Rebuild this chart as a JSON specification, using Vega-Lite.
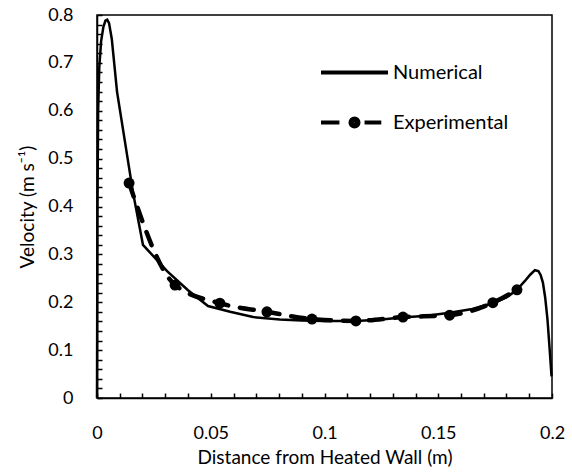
{
  "$schema": "https://vega.github.io/schema/vega-lite/v6.json",
  "width": 455,
  "height": 383,
  "autosize": "none",
  "padding": {"left": 97, "top": 15, "right": 20, "bottom": 75},
  "background": "white",
  "config": {
    "view": {"stroke": "black", "strokeWidth": 1.5},
    "font": "Lato",
    "axis": {
      "grid": false,
      "domainColor": "black",
      "domainWidth": 1.5,
      "tickColor": "black",
      "tickWidth": 1.5,
      "labelFont": "Lato",
      "labelFontSize": 18,
      "labelColor": "black",
      "titleFont": "Lato",
      "titleFontSize": 19,
      "titleFontWeight": "normal",
      "titleColor": "black",
      "labelFlush": false,
      "labelOverlap": false
    }
  },
  "data": {
    "values": [
      {"series": "Numerical", "x": 0, "v": 0.0},
      {"series": "Numerical", "x": 0.0002, "v": 0.4},
      {"series": "Numerical", "x": 0.0005, "v": 0.6},
      {"series": "Numerical", "x": 0.001, "v": 0.69},
      {"series": "Numerical", "x": 0.0018, "v": 0.745},
      {"series": "Numerical", "x": 0.0028, "v": 0.775},
      {"series": "Numerical", "x": 0.0037, "v": 0.788},
      {"series": "Numerical", "x": 0.0045, "v": 0.79},
      {"series": "Numerical", "x": 0.0053, "v": 0.783},
      {"series": "Numerical", "x": 0.0065, "v": 0.75},
      {"series": "Numerical", "x": 0.0088, "v": 0.64},
      {"series": "Numerical", "x": 0.0158, "v": 0.43},
      {"series": "Numerical", "x": 0.0202, "v": 0.32},
      {"series": "Numerical", "x": 0.0308, "v": 0.265},
      {"series": "Numerical", "x": 0.04, "v": 0.225},
      {"series": "Numerical", "x": 0.0488, "v": 0.192},
      {"series": "Numerical", "x": 0.0585, "v": 0.18},
      {"series": "Numerical", "x": 0.0686, "v": 0.169},
      {"series": "Numerical", "x": 0.0804, "v": 0.164},
      {"series": "Numerical", "x": 0.09, "v": 0.162},
      {"series": "Numerical", "x": 0.1, "v": 0.161},
      {"series": "Numerical", "x": 0.114, "v": 0.161},
      {"series": "Numerical", "x": 0.125, "v": 0.164},
      {"series": "Numerical", "x": 0.134, "v": 0.168},
      {"series": "Numerical", "x": 0.145, "v": 0.172},
      {"series": "Numerical", "x": 0.155, "v": 0.178},
      {"series": "Numerical", "x": 0.165, "v": 0.186},
      {"series": "Numerical", "x": 0.174, "v": 0.198},
      {"series": "Numerical", "x": 0.18, "v": 0.21},
      {"series": "Numerical", "x": 0.1846, "v": 0.226},
      {"series": "Numerical", "x": 0.188, "v": 0.244},
      {"series": "Numerical", "x": 0.1905, "v": 0.258},
      {"series": "Numerical", "x": 0.1925, "v": 0.267},
      {"series": "Numerical", "x": 0.194, "v": 0.265},
      {"series": "Numerical", "x": 0.195, "v": 0.257},
      {"series": "Numerical", "x": 0.196, "v": 0.241},
      {"series": "Numerical", "x": 0.197, "v": 0.21},
      {"series": "Numerical", "x": 0.198, "v": 0.165},
      {"series": "Numerical", "x": 0.199, "v": 0.1},
      {"series": "Numerical", "x": 0.1998, "v": 0.045},
      {"series": "Experimental", "x": 0.0141, "v": 0.449},
      {"series": "Experimental", "x": 0.0343, "v": 0.236},
      {"series": "Experimental", "x": 0.054, "v": 0.198},
      {"series": "Experimental", "x": 0.0747, "v": 0.18},
      {"series": "Experimental", "x": 0.0945, "v": 0.165},
      {"series": "Experimental", "x": 0.1138, "v": 0.161},
      {"series": "Experimental", "x": 0.1345, "v": 0.169},
      {"series": "Experimental", "x": 0.155, "v": 0.173},
      {"series": "Experimental", "x": 0.174, "v": 0.199},
      {"series": "Experimental", "x": 0.1846, "v": 0.226}
    ]
  },
  "encoding": {
    "x": {
      "field": "x",
      "type": "quantitative",
      "scale": {"domain": [0, 0.2], "nice": false, "zero": false},
      "axis": {
        "title": "Distance from Heated Wall (m)",
        "values": [0, 0.01, 0.02, 0.03, 0.04, 0.05, 0.06, 0.07, 0.08, 0.09, 0.1, 0.11, 0.12, 0.13, 0.14, 0.15, 0.16, 0.17, 0.18, 0.19, 0.2],
        "labelExpr": "abs(datum.value*20 - round(datum.value*20)) < 0.000001 ? format(datum.value, '~g') : ''",
        "tickSize": -5,
        "labelPadding": 31,
        "titlePadding": 6
      }
    },
    "y": {
      "field": "v",
      "type": "quantitative",
      "scale": {"domain": [0, 0.8], "nice": false, "zero": false},
      "axis": {
        "title": "Velocity (m s⁻¹)",
        "values": [0, 0.02, 0.04, 0.06, 0.08, 0.1, 0.12, 0.14, 0.16, 0.18, 0.2, 0.22, 0.24, 0.26, 0.28, 0.3, 0.32, 0.34, 0.36, 0.38, 0.4, 0.42, 0.44, 0.46, 0.48, 0.5, 0.52, 0.54, 0.56, 0.58, 0.6, 0.62, 0.64, 0.66, 0.68, 0.7, 0.72, 0.74, 0.76, 0.78, 0.8],
        "labelExpr": "abs(datum.value*10 - round(datum.value*10)) < 0.000001 ? format(datum.value, '~g') : ''",
        "tickSize": -5,
        "labelPadding": 29,
        "titlePadding": 10,
        "encode": {"labels": {"update": {"dx": {"value": -9}}}}
      }
    }
  },
  "layer": [
    {
      "transform": [{"filter": "datum.series === 'Numerical'"}],
      "mark": {"type": "line", "color": "black", "strokeWidth": 2.5}
    },
    {
      "transform": [{"filter": "datum.series === 'Experimental'"}],
      "mark": {"type": "line", "color": "black", "strokeWidth": 4.5, "strokeDash": [14, 12], "strokeCap": "round", "interpolate": "monotone"}
    },
    {
      "transform": [{"filter": "datum.series === 'Experimental'"}],
      "mark": {"type": "point", "shape": "circle", "filled": true, "color": "black", "opacity": 1, "size": 120}
    },
    {
      "mark": {"type": "point", "filled": false, "color": "black", "strokeWidth": 4, "strokeCap": "round", "opacity": 0},
      "encoding": {
        "shape": {
          "field": "series",
          "type": "nominal",
          "scale": {
            "domain": ["Numerical", "Experimental"],
            "range": ["M-1,0H1", "M-1,0H-0.45M0.3,0H0.8M-0.12,0A0.12,0.12 0 1,1 0.12,0A0.12,0.12 0 1,1 -0.12,0ZM-0.05,0A0.05,0.05 0 1,1 0.05,0A0.05,0.05 0 1,1 -0.05,0Z"]
          },
          "legend": {
            "title": null,
            "orient": "none",
            "legendX": 222,
            "legendY": 22,
            "padding": 0,
            "symbolSize": 4489,
            "symbolOpacity": 1,
            "symbolStrokeColor": "black",
            "symbolStrokeWidth": 4,
            "labelFont": "Lato",
            "labelFontSize": 20,
            "labelColor": "black",
            "labelOffset": 3,
            "rowPadding": 4,
            "encode": {
              "symbols": {
                "update": {
                  "opacity": {"value": 1},
                  "strokeCap": {"value": "round"},
                  "strokeWidth": {"signal": "datum.value === 'Experimental' ? 4.5 : 2.5"}
                }
              }
            }
          }
        }
      }
    }
  ]
}
